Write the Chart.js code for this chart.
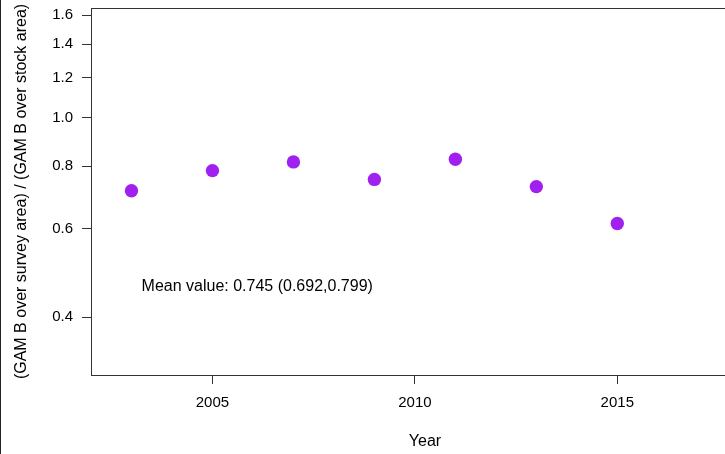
<!DOCTYPE html>
<html>
<head>
<meta charset="utf-8">
<script src="https://cdn.jsdelivr.net/npm/chart.js@4/dist/chart.umd.min.js"></script>
<style>
  html, body { margin: 0; padding: 0; background: #ffffff; overflow: hidden; }
  #wrap { position: relative; width: 780px; height: 454px; }
</style>
</head>
<body>
<div id="wrap"><canvas id="grafico"></canvas></div>
<script>
const anios = [2003, 2005, 2007, 2009, 2011, 2013, 2015];
const ratios = [0.715, 0.784, 0.816, 0.753, 0.826, 0.7285, 0.615];
const ticksY = [0.4, 0.6, 0.8, 1.0, 1.2, 1.4, 1.6];
const ticksX = [2005, 2010, 2015];
const textoMedia = 'Mean value: 0.745 (0.692,0.799)';

const fuente = 'Liberation Sans, Arial, sans-serif';

const puntos = anios.map(function(a, i){
    return { x: a, y: ratios[i] };
});

// caja del grafico, texto de la media y linea del borde izquierdo
const extras = {
    id: 'extras',
    afterDraw: function(chart){
        const ctx = chart.ctx;
        const area = chart.chartArea;
        ctx.save();
        ctx.strokeStyle = '#333333';
        ctx.lineWidth = 1;
        ctx.strokeRect(area.left + 0.5, area.top + 0.5, area.right - area.left, area.bottom - area.top);

        ctx.fillStyle = '#000000';
        ctx.font = '16px ' + fuente;
        ctx.textAlign = 'left';
        ctx.textBaseline = 'middle';
        const tx = chart.scales.x.getPixelForValue(2003.25);
        const ty = chart.scales.y.getPixelForValue(0.46);
        ctx.fillText(textoMedia, tx, ty);

        ctx.fillStyle = '#222222';
        ctx.fillRect(0, 0, 1, chart.height);
        ctx.restore();
    }
};

new Chart(document.getElementById('grafico'), {
    type: 'scatter',
    plugins: [extras],
    data: {
        datasets: [{
            data: puntos,
            backgroundColor: '#A020F0',
            borderColor: '#A020F0',
            pointRadius: 6.7,
            pointHoverRadius: 6.7,
            borderWidth: 0
        }]
    },
    options: {
        responsive: true,
        maintainAspectRatio: false,
        animation: false,
        layout: { padding: { top: 8, right: 21, bottom: 0, left: 0 } },
        plugins: {
            legend: { display: false },
            tooltip: { enabled: false }
        },
        scales: {
            x: {
                type: 'linear',
                bounds: 'data',
                min: 2002,
                max: 2018.5,
                afterBuildTicks: function(scale){
                    scale.ticks = ticksX.map(v => ({ value: v }));
                },
                afterFit: function(scale){
                    scale.height = 79;
                    scale.paddingLeft = 0;
                    scale.paddingRight = 0;
                },
                grid: {
                    drawOnChartArea: false,
                    drawTicks: true,
                    tickLength: 9,
                    tickColor: '#333333'
                },
                border: { display: true, color: '#333333' },
                ticks: {
                    color: '#000000',
                    padding: 10,
                    maxRotation: 0,
                    font: { family: fuente, size: 15 },
                    callback: function(v){ return String(v); }
                },
                title: {
                    display: true,
                    text: 'Year',
                    color: '#000000',
                    padding: { top: 0, bottom: 3 },
                    font: { family: fuente, size: 16 }
                }
            },
            y: {
                type: 'logarithmic',
                bounds: 'data',
                min: 0.307,
                max: 1.653,
                afterBuildTicks: function(scale){
                    scale.ticks = ticksY.map(v => ({ value: v }));
                },
                afterFit: function(scale){
                    scale.width = 91;
                    scale.paddingTop = 0;
                    scale.paddingBottom = 0;
                },
                grid: {
                    drawOnChartArea: false,
                    drawTicks: true,
                    tickLength: 9,
                    tickColor: '#333333'
                },
                border: { display: true, color: '#333333' },
                ticks: {
                    color: '#000000',
                    padding: 9,
                    font: { family: fuente, size: 15 },
                    callback: function(v){ return Number(v).toFixed(1); }
                },
                title: {
                    display: true,
                    text: '(GAM B over survey area) / (GAM B over stock area)',
                    color: '#000000',
                    padding: { top: 12, bottom: 0 },
                    font: { family: fuente, size: 16 }
                }
            }
        }
    }
});
</script>
</body>
</html>
